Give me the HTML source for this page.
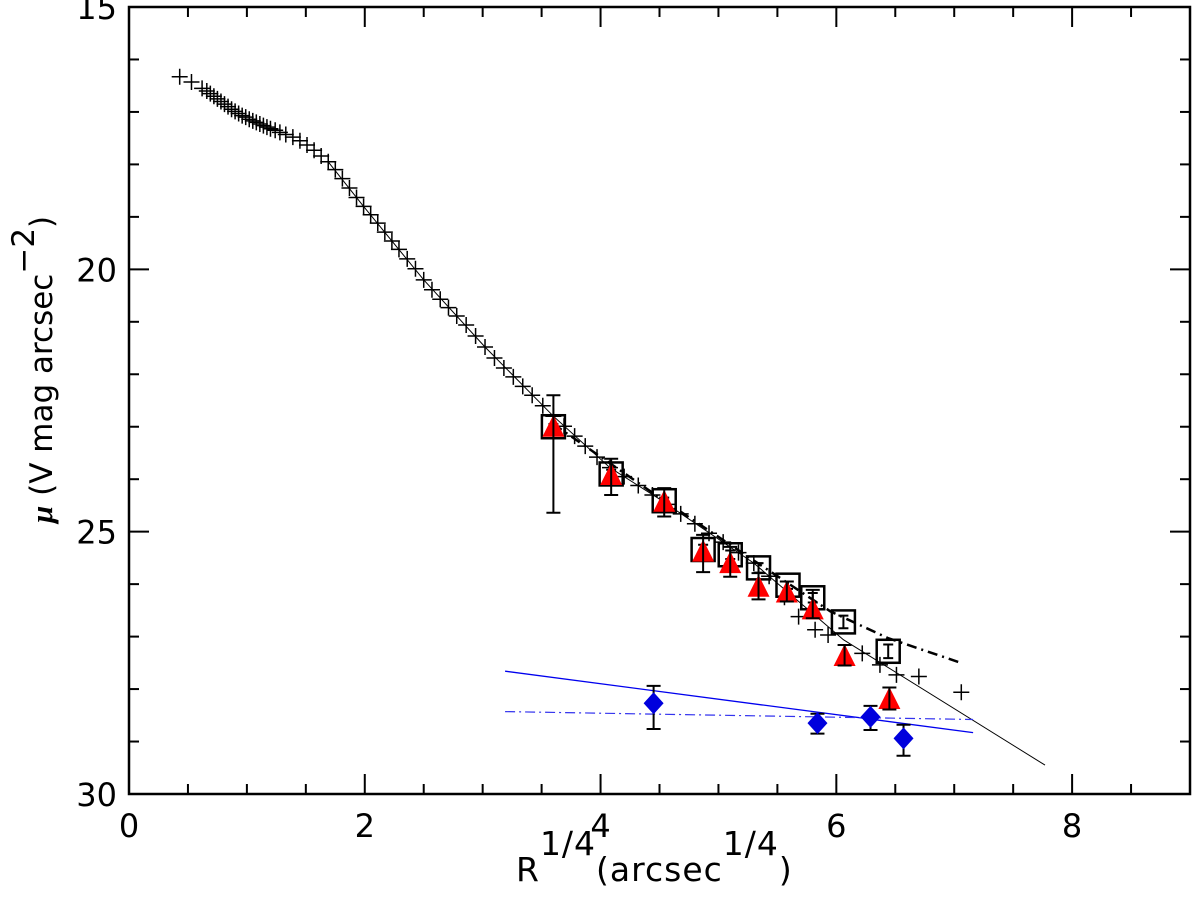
<!DOCTYPE html>
<html><head><meta charset="utf-8"><style>
html,body{margin:0;padding:0;background:#fff;}
svg text{font-family:"DejaVu Sans","Liberation Sans",sans-serif;fill:#000;}
</style></head><body>
<svg id="chart" width="1200" height="897" viewBox="0 0 1200 897" xmlns="http://www.w3.org/2000/svg">
<g id="marks"></g>
<rect x="129" y="7" width="1061" height="787" fill="none" stroke="#000" stroke-width="2.5"/>
<g id="axes"></g>
<text x="516" y="881" font-size="33" letter-spacing="1">R<tspan dy="-26">1/4</tspan><tspan dy="26">(arcsec</tspan><tspan dy="-26">1/4</tspan><tspan dy="26">)</tspan></text>
<text transform="translate(52,523) rotate(-90)" font-size="31"><tspan font-weight="bold" font-style="italic" font-family="Liberation Serif">μ</tspan> (V mag arcsec<tspan dy="-18">−2</tspan><tspan dy="18">)</tspan></text>
</svg>
<script>
const xTicks=[0,2,4,6,8];
const yTicks=[15,20,25,30];
const crossR=[0.43,0.53,0.62,0.66,0.69,0.72,0.75,0.78,0.81,0.84,0.87,0.9,0.93,0.96,0.99,1.02,1.05,1.08,1.11,1.14,1.17,1.2,1.24,1.28,1.33,1.39,1.45,1.51,1.57,1.63,1.69,1.75,1.81,1.87,1.93,1.99,2.05,2.11,2.17,2.23,2.29,2.36,2.43,2.5,2.57,2.64,2.71,2.78,2.86,2.94,3.02,3.1,3.18,3.26,3.34,3.42,3.51,3.6,3.69,3.78,3.87,3.97,4.08,4.2,4.32,4.44,4.56,4.68,4.8,4.92,5.04,5.17,5.3,5.43,5.56,5.68,5.82,5.93,6.22,6.37,6.51,6.7,7.06];
const crossMu=[16.33,16.43,16.55,16.6,16.65,16.7,16.75,16.8,16.85,16.9,16.95,16.99,17.03,17.07,17.1,17.14,17.17,17.2,17.23,17.26,17.29,17.32,17.35,17.39,17.43,17.48,17.55,17.63,17.73,17.84,17.95,18.1,18.27,18.45,18.63,18.8,18.96,19.12,19.29,19.46,19.62,19.8,19.99,20.2,20.39,20.57,20.73,20.89,21.06,21.27,21.48,21.69,21.88,22.05,22.23,22.4,22.6,22.8,22.99,23.18,23.37,23.58,23.78,23.95,24.12,24.3,24.48,24.66,24.85,25.03,25.2,25.4,25.6,25.85,26.25,26.62,26.87,26.97,27.32,27.54,27.73,27.76,28.06];
const fitR=[1.69,1.99,2.5,3.02,3.6,4.08,4.5,5.3,6.06,7.77];
const fitMu=[17.95,18.8,20.2,21.48,22.8,23.78,24.38,25.6,27.06,29.45];
const dashR=[3.6,4.5,5.3,5.95,6.44,7.07];
const dashMu=[22.95,24.35,25.55,26.52,27.03,27.51];
const sqR=[3.6,4.09,4.54,4.87,5.1,5.34,5.59,5.8,6.06,6.44];
const sqMu=[23.0,23.9,24.41,25.34,25.44,25.69,26.02,26.26,26.72,27.28];
const sqLo=[22.95,23.82,24.35,25.25,25.36,25.6,25.95,26.17,26.6,27.15];
const sqHi=[23.05,23.98,24.47,25.43,25.52,25.78,26.09,26.35,26.84,27.41];
const triR=[3.6,4.09,4.54,4.87,5.1,5.34,5.58,5.8,6.07,6.45];
const triMu=[23.0,23.92,24.43,25.38,25.6,26.05,26.16,26.48,27.37,28.19];
const triLo=[22.4,23.61,24.17,25.06,25.29,25.79,25.95,26.11,27.16,27.97];
const triHi=[24.64,24.3,24.71,25.77,25.86,26.29,26.33,26.65,27.55,28.39];
const diaR=[4.45,5.84,6.29,6.57];
const diaMu=[28.27,28.65,28.53,28.94];
const diaLo=[27.94,28.47,28.32,28.68];
const diaHi=[28.76,28.85,28.78,29.27];
const blueSolidR=[3.19,7.16];
const blueSolidMu=[27.66,28.83];
const blueDashR=[3.19,7.16];
const blueDashMu=[28.43,28.58];

const X0=129,X1=1190,Y0=7,Y1=794,XMIN=0,XMAX=9,YMIN=15,YMAX=30;
const sx=v=>X0+(v-XMIN)/(XMAX-XMIN)*(X1-X0);
const sy=v=>Y0+(v-YMIN)/(YMAX-YMIN)*(Y1-Y0);
const NS='http://www.w3.org/2000/svg';
const marks=document.getElementById('marks');
const axes=document.getElementById('axes');
function mk(tag,attrs,parent){const e=document.createElementNS(NS,tag);for(const k in attrs)e.setAttribute(k,attrs[k]);parent.appendChild(e);return e;}

for(let v=0;v<=9.001;v+=0.5){
  const major=Math.abs(v/2-Math.round(v/2))<1e-6;
  const L=major?20:10,x=sx(v);
  const t1=mk('line',{x1:x,y1:Y1,x2:x,y2:Y1-L,stroke:'#000','stroke-width':2},axes);
  
  
  const t2=mk('line',{x1:x,y1:Y0,x2:x,y2:Y0+L,stroke:'#000','stroke-width':2},axes);
  
  
}
for(let v=15;v<=30;v+=1){
  const major=v%5===0,L=major?20:10,y=sy(v);
  const t1=mk('line',{x1:X0,y1:y,x2:X0+L,y2:y,stroke:'#000','stroke-width':2},axes);
  
  
  const t2=mk('line',{x1:X1,y1:y,x2:X1-L,y2:y,stroke:'#000','stroke-width':2},axes);
  
  
}
xTicks.forEach(v=>{const t=mk('text',{x:sx(v),y:837,'font-size':32,'text-anchor':'middle'},axes);t.textContent=String(v);
  
  });
yTicks.forEach(v=>{const t=mk('text',{x:117,y:sy(v)+12,'font-size':32,'text-anchor':'end'},axes);t.textContent=String(v);
  
  });

function poly(R,M,attrs,name){const p=R.map((r,i)=>sx(r).toFixed(1)+','+sy(M[i]).toFixed(1)).join(' ');
  const e=mk('polyline',Object.assign({points:p,fill:'none'},attrs),marks);
  
  }
poly(fitR,fitMu,{stroke:'#000','stroke-width':1},'fit-line');
poly(dashR,dashMu,{stroke:'#000','stroke-width':2.5,'stroke-dasharray':'10,5,2,5'},'dash-dot-fit');
poly(blueSolidR,blueSolidMu,{stroke:'#0000ee','stroke-width':1.3},'blue-fit-line');
poly(blueDashR,blueDashMu,{stroke:'#3333ee','stroke-width':1.2,'stroke-dasharray':'10,4,2,4'},'blue-dash-dot-fit');

crossR.forEach((r,i)=>{const x=sx(r),y=sy(crossMu[i]);
  const e=mk('path',{d:`M${x-8},${y}H${x+8}M${x},${y-8}V${y+8}`,stroke:'#000','stroke-width':1.5,fill:'none'},marks);
  
  });

function errbar(x,lo,hi,name,w){const e=mk('path',{d:`M${x},${sy(lo)}V${sy(hi)}M${x-w},${sy(lo)}H${x+w}M${x-w},${sy(hi)}H${x+w}`,stroke:'#000','stroke-width':2,fill:'none'},marks);
  
  }

sqR.forEach((r,i)=>{const x=sx(r),y=sy(sqMu[i]);
  const e=mk('rect',{x:x-11.5,y:y-11.5,width:23,height:23,fill:'none',stroke:'#000','stroke-width':2.5},marks);
  
  
  errbar(x,sqLo[i],sqHi[i],'square-error-bar',5);});

triR.forEach((r,i)=>{const x=sx(r),y=sy(triMu[i]);
  const e=mk('polygon',{points:`${x},${y-12} ${x-11},${y+10} ${x+11},${y+10}`,fill:'#ff0000'},marks);
  
  
  errbar(x,triLo[i],triHi[i],'triangle-error-bar',7);});

diaR.forEach((r,i)=>{const x=sx(r),y=sy(diaMu[i]);
  errbar(x,diaLo[i],diaHi[i],'diamond-error-bar',7);
  const e=mk('polygon',{points:`${x},${y-11} ${x+10},${y} ${x},${y+11} ${x-10},${y}`,fill:'#0000dd'},marks);
  
  });
</script>
</body></html>
